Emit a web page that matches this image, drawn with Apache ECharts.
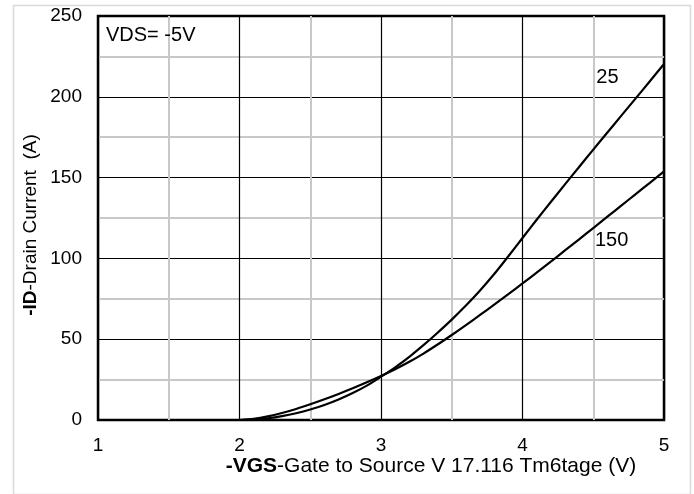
<!DOCTYPE html>
<html>
<head>
<meta charset="utf-8">
<script src="https://cdn.jsdelivr.net/npm/echarts@6/dist/echarts.min.js"></script>
<style>
html,body{margin:0;padding:0;background:#fff;}
#c{width:694px;height:494px;}
</style>
</head>
<body>
<div id="c"></div>
<script>
// Data
var vgs = [2.0,2.1,2.2,2.3,2.4,2.5,2.6,2.7,2.8,2.9,3.0,3.1,3.2,3.3,3.4,3.5,3.6,3.7,3.8,3.9,4.0,4.1,4.2,4.3,4.4,4.5,4.6,4.7,4.8,4.9,5.0];
var id25 = [0,0.3,1.1,2.4,4.2,6.5,9.3,12.7,16.7,21.3,26.8,32.6,39.1,46.3,54.0,62.1,70.8,80.1,90.3,101.3,112.6,123.9,134.9,145.8,156.6,167.3,177.9,188.5,199.0,209.6,220.3];
var id150 = [0,0.7,2.2,4.3,6.8,9.7,12.8,16.1,19.6,23.3,27.2,31.4,36.0,41.1,46.7,52.6,58.7,65.0,71.4,77.9,84.5,91.2,98.0,104.9,111.8,118.8,125.8,132.8,139.8,146.8,153.9];
var curveNames = ['25','150'];
var curveLabelPos = [[4.6,212],[4.63,111]];
var xTicks = [1,2,3,4,5];
var yTicks = [0,50,100,150,200,250];
var conditionText = 'VDS= -5V';
var xTitleBold = '-VGS';
var xTitleRest = '-Gate to Source V 17.116 Tm6tage (V)';
var yTitleBold = '-ID';
var yTitleRest = '-Drain Current  (A)';

var FONT = '"Liberation Sans", Arial, sans-serif';
function pairs(xs, ys){ return xs.map(function(x,i){ return [x, ys[i]]; }); }

var chart = echarts.init(document.getElementById('c'), null, {renderer:'canvas'});
var option = {
  backgroundColor:'#fff',
  animation:false,
  title:{
    text: conditionText,
    left: 101, top: 20,
    textStyle:{fontFamily:FONT, fontSize:20, fontWeight:'normal', color:'#000'}
  },
  grid:{left:98, top:16, right:30, bottom:74, show:true, borderColor:'#000', borderWidth:2.5, backgroundColor:'transparent'},
  xAxis:{
    type:'value', min:xTicks[0], max:xTicks[xTicks.length-1], interval:1,
    axisLine:{show:false}, axisTick:{show:false},
    axisLabel:{fontFamily:FONT, fontSize:19, color:'#000', margin:16},
    splitLine:{show:true, lineStyle:{color:'#000', width:1.2}},
    minorTick:{show:false, splitNumber:2},
    minorSplitLine:{show:true, lineStyle:{color:'#c8c8c8', width:2}}
  },
  yAxis:{
    type:'value', min:yTicks[0], max:yTicks[yTicks.length-1], interval:50,
    axisLine:{show:false}, axisTick:{show:false},
    axisLabel:{fontFamily:FONT, fontSize:19, color:'#000', margin:16},
    splitLine:{show:true, lineStyle:{color:'#000', width:1.2}},
    minorTick:{show:false, splitNumber:2},
    minorSplitLine:{show:true, lineStyle:{color:'#c8c8c8', width:2}}
  },
  graphic:[
    {type:'rect', left:11, top:3, shape:{width:677, height:489}, style:{fill:'none', stroke:'#d9d9d9', lineWidth:1.5}, silent:true, z:-1},
    {type:'text', x:431, y:466, style:{
      text:'{b|' + xTitleBold + '}{n|' + xTitleRest + '}',
      align:'center', verticalAlign:'middle',
      rich:{b:{fontFamily:FONT, fontSize:21, fontWeight:'bold', fill:'#000'}, n:{fontFamily:FONT, fontSize:21, fill:'#000'}}
    }},
    {type:'text', x:31, y:225, rotation:Math.PI/2, style:{
      text:'{b|' + yTitleBold + '}{n|' + yTitleRest + '}',
      align:'center', verticalAlign:'middle',
      rich:{b:{fontFamily:FONT, fontSize:19, fontWeight:'bold', fill:'#000'}, n:{fontFamily:FONT, fontSize:19, fill:'#000'}}
    }}
  ],
  series:[
    {type:'line', name:curveNames[0], data:pairs(vgs,id25), smooth:0.3, showSymbol:false, symbol:'none',
      lineStyle:{color:'#000', width:2.2}, z:5},
    {type:'line', name:curveNames[1], data:pairs(vgs,id150), smooth:0.3, showSymbol:false, symbol:'none',
      lineStyle:{color:'#000', width:2.2}, z:5},
    {type:'scatter', symbolSize:0, silent:true,
      data:curveNames.map(function(n,i){ return {name:n, value:curveLabelPos[i]}; }),
      label:{show:true, position:'inside', formatter:function(p){return p.name;}, fontFamily:FONT, fontSize:20, color:'#000', opacity:1}, z:6}
  ]
};
chart.setOption(option);
</script>
</body>
</html>
